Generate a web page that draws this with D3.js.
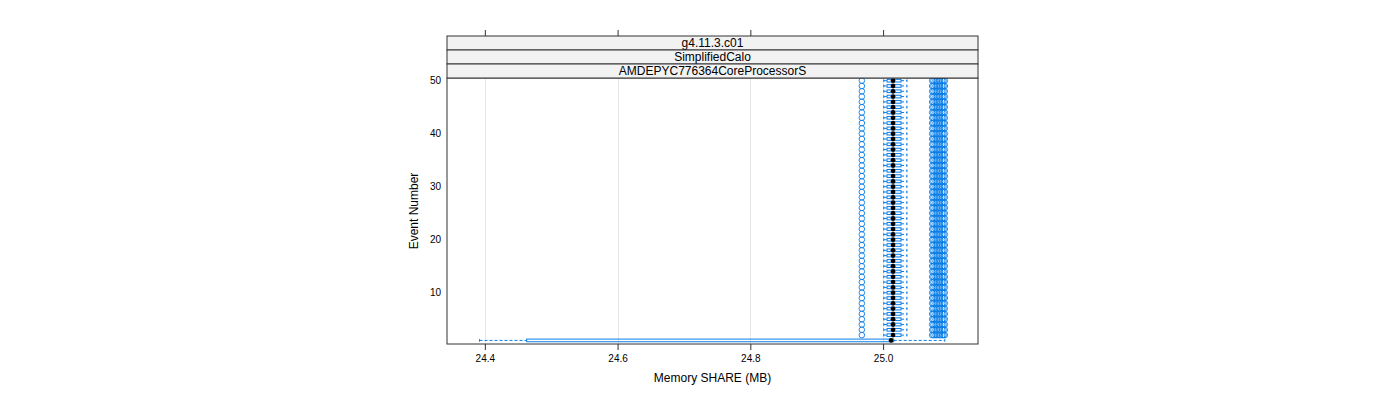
<!DOCTYPE html>
<html>
<head>
<meta charset="utf-8">
<script src="https://cdn.jsdelivr.net/npm/d3@7"></script>
<style>
  html, body { margin: 0; padding: 0; background: #fff; }
  svg { display: block; font-family: "Liberation Sans", Arial, sans-serif; }
</style>
</head>
<body>
<svg id="chart" width="1400" height="400"></svg>
<script>
// ---------------- data ----------------
const stripLabels = ["g4.11.3.c01", "SimplifiedCalo", "AMDEPYC776364CoreProcessorS"];
const xTicks = [24.4, 24.6, 24.8, 25.0];
const xTickLabels = ["24.4", "24.6", "24.8", "25.0"];
const yTicks = [10, 20, 30, 40, 50];
const xTitle = "Memory SHARE (MB)";
const yTitle = "Event Number";

const events = [1,2,3,4,5,6,7,8,9,10,11,12,13,14,15,16,17,18,19,20,21,22,23,24,25,
                26,27,28,29,30,31,32,33,34,35,36,37,38,39,40,41,42,43,44,45,46,47,48,49,50];

const lowerWhisker = [24.392,25.001,25.001,25.001,25.001,25.001,25.001,25.001,25.001,25.001,
                      25.001,25.001,25.001,25.001,25.001,25.001,25.001,25.001,25.001,25.001,
                      25.001,25.001,25.001,25.001,25.001,25.001,25.001,25.001,25.001,25.001,
                      25.001,25.001,25.001,25.001,25.001,25.001,25.001,25.001,25.001,25.001,
                      25.001,25.001,25.001,25.001,25.001,25.001,25.001,25.001,25.001,25.001];
const q1 = [24.463,25.006,25.006,25.006,25.006,25.006,25.006,25.006,25.006,25.006,
            25.006,25.006,25.006,25.006,25.006,25.006,25.006,25.006,25.006,25.006,
            25.006,25.006,25.006,25.006,25.006,25.006,25.006,25.006,25.006,25.006,
            25.006,25.006,25.006,25.006,25.006,25.006,25.006,25.006,25.006,25.006,
            25.006,25.006,25.006,25.006,25.006,25.006,25.006,25.006,25.006,25.006];
const medians = [25.012,25.015,25.015,25.015,25.015,25.015,25.015,25.015,25.015,25.015,
                 25.015,25.015,25.015,25.015,25.015,25.015,25.015,25.015,25.015,25.015,
                 25.015,25.015,25.015,25.015,25.015,25.015,25.015,25.015,25.015,25.015,
                 25.015,25.015,25.015,25.015,25.015,25.015,25.015,25.015,25.015,25.015,
                 25.015,25.015,25.015,25.015,25.015,25.015,25.015,25.015,25.015,25.015];
const q3 = [25.016,25.027,25.027,25.027,25.027,25.027,25.027,25.027,25.027,25.027,
            25.027,25.027,25.027,25.027,25.027,25.027,25.027,25.027,25.027,25.027,
            25.027,25.027,25.027,25.027,25.027,25.027,25.027,25.027,25.027,25.027,
            25.027,25.027,25.027,25.027,25.027,25.027,25.027,25.027,25.027,25.027,
            25.027,25.027,25.027,25.027,25.027,25.027,25.027,25.027,25.027,25.027];
const upperWhisker = [25.093,25.036,25.036,25.036,25.036,25.036,25.036,25.036,25.036,25.036,
                      25.036,25.036,25.036,25.036,25.036,25.036,25.036,25.036,25.036,25.036,
                      25.036,25.036,25.036,25.036,25.036,25.036,25.036,25.036,25.036,25.036,
                      25.036,25.036,25.036,25.036,25.036,25.036,25.036,25.036,25.036,25.036,
                      25.036,25.036,25.036,25.036,25.036,25.036,25.036,25.036,25.036,25.036];
const lowerOutliers = [[],[24.968],[24.968],[24.968],[24.968],[24.968],[24.968],[24.968],[24.968],[24.968],
  [24.968],[24.968],[24.968],[24.968],[24.968],[24.968],[24.968],[24.968],[24.968],[24.968],
  [24.968],[24.968],[24.968],[24.968],[24.968],[24.968],[24.968],[24.968],[24.968],[24.968],
  [24.968],[24.968],[24.968],[24.968],[24.968],[24.968],[24.968],[24.968],[24.968],[24.968],
  [24.968],[24.968],[24.968],[24.968],[24.968],[24.968],[24.968],[24.968],[24.968],[24.968]];
const upperOutliers = [[],
  [25.074,25.076,25.079,25.081,25.084,25.086,25.089,25.091,25.093],[25.074,25.076,25.079,25.081,25.084,25.086,25.089,25.091,25.093],
  [25.074,25.076,25.079,25.081,25.084,25.086,25.089,25.091,25.093],[25.074,25.076,25.079,25.081,25.084,25.086,25.089,25.091,25.093],
  [25.074,25.076,25.079,25.081,25.084,25.086,25.089,25.091,25.093],[25.074,25.076,25.079,25.081,25.084,25.086,25.089,25.091,25.093],
  [25.074,25.076,25.079,25.081,25.084,25.086,25.089,25.091,25.093],[25.074,25.076,25.079,25.081,25.084,25.086,25.089,25.091,25.093],
  [25.074,25.076,25.079,25.081,25.084,25.086,25.089,25.091,25.093],[25.074,25.076,25.079,25.081,25.084,25.086,25.089,25.091,25.093],
  [25.074,25.076,25.079,25.081,25.084,25.086,25.089,25.091,25.093],[25.074,25.076,25.079,25.081,25.084,25.086,25.089,25.091,25.093],
  [25.074,25.076,25.079,25.081,25.084,25.086,25.089,25.091,25.093],[25.074,25.076,25.079,25.081,25.084,25.086,25.089,25.091,25.093],
  [25.074,25.076,25.079,25.081,25.084,25.086,25.089,25.091,25.093],[25.074,25.076,25.079,25.081,25.084,25.086,25.089,25.091,25.093],
  [25.074,25.076,25.079,25.081,25.084,25.086,25.089,25.091,25.093],[25.074,25.076,25.079,25.081,25.084,25.086,25.089,25.091,25.093],
  [25.074,25.076,25.079,25.081,25.084,25.086,25.089,25.091,25.093],[25.074,25.076,25.079,25.081,25.084,25.086,25.089,25.091,25.093],
  [25.074,25.076,25.079,25.081,25.084,25.086,25.089,25.091,25.093],[25.074,25.076,25.079,25.081,25.084,25.086,25.089,25.091,25.093],
  [25.074,25.076,25.079,25.081,25.084,25.086,25.089,25.091,25.093],[25.074,25.076,25.079,25.081,25.084,25.086,25.089,25.091,25.093],
  [25.074,25.076,25.079,25.081,25.084,25.086,25.089,25.091,25.093],[25.074,25.076,25.079,25.081,25.084,25.086,25.089,25.091,25.093],
  [25.074,25.076,25.079,25.081,25.084,25.086,25.089,25.091,25.093],[25.074,25.076,25.079,25.081,25.084,25.086,25.089,25.091,25.093],
  [25.074,25.076,25.079,25.081,25.084,25.086,25.089,25.091,25.093],[25.074,25.076,25.079,25.081,25.084,25.086,25.089,25.091,25.093],
  [25.074,25.076,25.079,25.081,25.084,25.086,25.089,25.091,25.093],[25.074,25.076,25.079,25.081,25.084,25.086,25.089,25.091,25.093],
  [25.074,25.076,25.079,25.081,25.084,25.086,25.089,25.091,25.093],[25.074,25.076,25.079,25.081,25.084,25.086,25.089,25.091,25.093],
  [25.074,25.076,25.079,25.081,25.084,25.086,25.089,25.091,25.093],[25.074,25.076,25.079,25.081,25.084,25.086,25.089,25.091,25.093],
  [25.074,25.076,25.079,25.081,25.084,25.086,25.089,25.091,25.093],[25.074,25.076,25.079,25.081,25.084,25.086,25.089,25.091,25.093],
  [25.074,25.076,25.079,25.081,25.084,25.086,25.089,25.091,25.093],[25.074,25.076,25.079,25.081,25.084,25.086,25.089,25.091,25.093],
  [25.074,25.076,25.079,25.081,25.084,25.086,25.089,25.091,25.093],[25.074,25.076,25.079,25.081,25.084,25.086,25.089,25.091,25.093],
  [25.074,25.076,25.079,25.081,25.084,25.086,25.089,25.091,25.093],[25.074,25.076,25.079,25.081,25.084,25.086,25.089,25.091,25.093],
  [25.074,25.076,25.079,25.081,25.084,25.086,25.089,25.091,25.093],[25.074,25.076,25.079,25.081,25.084,25.086,25.089,25.091,25.093],
  [25.074,25.076,25.079,25.081,25.084,25.086,25.089,25.091,25.093],[25.074,25.076,25.079,25.081,25.084,25.086,25.089,25.091,25.093],
  [25.074,25.076,25.079,25.081,25.084,25.086,25.089,25.091,25.093]];

// ---------------- layout ----------------
const panel = { left: 447, right: 978, top: 78, bottom: 344 };
const stripH = 14;
const stripTop = panel.top - stripH * stripLabels.length;
const blue = "#0a7ee8";
const frame = "#333";

const svg = d3.select("#chart");

const x = d3.scaleLinear().domain([24.343, 25.143]).range([panel.left, panel.right]);
const y = d3.scaleLinear().domain([0.4, 50.6]).range([343.6, 77.5]);
const boxHalf = (y(0) - y(0.5)) / 2; // box.ratio = 1 -> height 0.5 units

// clip
svg.append("defs").append("clipPath").attr("id", "pclip")
  .append("rect").attr("x", panel.left).attr("y", panel.top)
  .attr("width", panel.right - panel.left).attr("height", panel.bottom - panel.top);

// gridlines
svg.append("g").selectAll("line").data(xTicks).join("line")
  .attr("x1", d => Math.round(x(d)) + 0.5).attr("x2", d => Math.round(x(d)) + 0.5)
  .attr("y1", panel.top).attr("y2", panel.bottom)
  .attr("stroke", "#e6e6e6").attr("stroke-width", 1);

// boxplots
const rows = events.map((e, i) => ({
  e, lo: lowerWhisker[i], q1: q1[i], med: medians[i], q3: q3[i], hi: upperWhisker[i],
  outs: lowerOutliers[i].concat(upperOutliers[i])
}));

const g = svg.append("g").attr("clip-path", "url(#pclip)");

// whiskers (dashed)
g.selectAll("line.wl").data(rows).join("line").attr("class", "wl")
  .attr("x1", d => x(d.lo)).attr("x2", d => x(d.q1))
  .attr("y1", d => y(d.e)).attr("y2", d => y(d.e))
  .attr("stroke", blue).attr("stroke-width", 1).attr("stroke-dasharray", "3,2");
g.selectAll("line.wh").data(rows).join("line").attr("class", "wh")
  .attr("x1", d => x(d.q3)).attr("x2", d => x(d.hi))
  .attr("y1", d => y(d.e)).attr("y2", d => y(d.e))
  .attr("stroke", blue).attr("stroke-width", 1).attr("stroke-dasharray", "3,2");
// whisker caps
g.selectAll("line.cl").data(rows).join("line").attr("class", "cl")
  .attr("x1", d => x(d.lo)).attr("x2", d => x(d.lo))
  .attr("y1", d => y(d.e) - boxHalf).attr("y2", d => y(d.e) + boxHalf)
  .attr("stroke", blue).attr("stroke-width", 1);
g.selectAll("line.ch").data(rows).join("line").attr("class", "ch")
  .attr("x1", d => x(d.hi)).attr("x2", d => x(d.hi))
  .attr("y1", d => y(d.e) - boxHalf).attr("y2", d => y(d.e) + boxHalf)
  .attr("stroke", blue).attr("stroke-width", 1);
// boxes
g.selectAll("rect.box").data(rows).join("rect").attr("class", "box")
  .attr("x", d => x(d.q1)).attr("width", d => x(d.q3) - x(d.q1))
  .attr("y", d => y(d.e) - boxHalf).attr("height", 2 * boxHalf)
  .attr("fill", "none").attr("stroke", blue).attr("stroke-width", 1);
// medians
g.selectAll("circle.med").data(rows).join("circle").attr("class", "med")
  .attr("cx", d => x(d.med)).attr("cy", d => y(d.e)).attr("r", 2.4)
  .attr("fill", "#000");
// outliers
const outPts = rows.flatMap(d => d.outs.map(v => ({ e: d.e, v })));
g.selectAll("circle.out").data(outPts).join("circle").attr("class", "out")
  .attr("cx", d => x(d.v)).attr("cy", d => y(d.e)).attr("r", 2.8)
  .attr("fill", "none").attr("stroke", blue).attr("stroke-width", 0.9);

// panel frame
svg.append("rect").attr("x", panel.left).attr("y", panel.top)
  .attr("width", panel.right - panel.left).attr("height", panel.bottom - panel.top)
  .attr("fill", "none").attr("stroke", frame).attr("stroke-width", 1);

// strips
const strips = svg.append("g");
stripLabels.forEach((lab, i) => {
  const sy = stripTop + i * stripH;
  strips.append("rect").attr("x", panel.left).attr("y", sy)
    .attr("width", panel.right - panel.left).attr("height", stripH)
    .attr("fill", "#f2f2f2").attr("stroke", frame).attr("stroke-width", 1);
  strips.append("text").attr("x", (panel.left + panel.right) / 2).attr("y", sy + stripH / 2)
    .attr("text-anchor", "middle").attr("dominant-baseline", "central")
    .attr("font-size", 12).attr("fill", "#000").text(lab);
});

// bottom axis
const xAxis = d3.axisBottom(x).tickValues(xTicks)
  .tickFormat((d, i) => xTickLabels[i]).tickSizeOuter(0).tickSize(6).tickPadding(5);
const gx = svg.append("g").attr("transform", `translate(0,${panel.bottom})`).call(xAxis);
gx.select(".domain").remove();
gx.selectAll(".tick line").attr("stroke", frame);
gx.selectAll(".tick text").attr("font-size", 10).attr("font-family", "Liberation Sans, Arial, sans-serif").attr("fill", "#000");

// top axis (ticks only)
const xAxisTop = d3.axisTop(x).tickValues(xTicks).tickFormat("").tickSizeOuter(0).tickSize(6);
const gxt = svg.append("g").attr("transform", `translate(0,${stripTop})`).call(xAxisTop);
gxt.select(".domain").remove();
gxt.selectAll(".tick line").attr("stroke", frame);

// left axis (labels only)
const yAxis = d3.axisLeft(y).tickValues(yTicks).tickFormat(d3.format("d")).tickSize(0).tickPadding(6);
const gy = svg.append("g").attr("transform", `translate(${panel.left},0)`).call(yAxis);
gy.select(".domain").remove();
gy.selectAll(".tick text").attr("font-size", 10).attr("font-family", "Liberation Sans, Arial, sans-serif").attr("fill", "#000");

// titles
svg.append("text").attr("x", (panel.left + panel.right) / 2).attr("y", 382)
  .attr("text-anchor", "middle").attr("font-size", 12).text(xTitle);
svg.append("text").attr("transform", `translate(418,${(panel.top + panel.bottom) / 2}) rotate(-90)`)
  .attr("text-anchor", "middle").attr("font-size", 12).text(yTitle);
</script>
</body>
</html>
